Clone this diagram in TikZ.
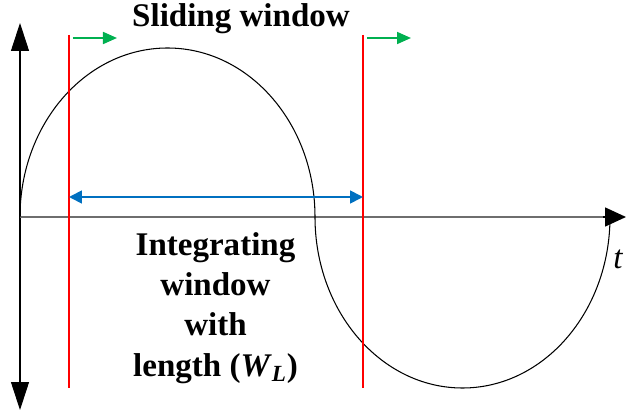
\documentclass[tikz,border=0pt]{standalone}
\usepackage{fontspec}
\setmainfont{Liberation Serif}
\usepackage{tikz}
\usetikzlibrary{arrows.meta,positioning}
\usepackage{xcolor}
\definecolor{slidegreen}{HTML}{00B050}
\definecolor{winblue}{HTML}{0070C0}
\definecolor{axisgray}{HTML}{6E6E6E}

\begin{document}
\begin{tikzpicture}[
  axisline/.style={line width=0.6pt},
  bound/.style={red, line width=0.6pt},
  slidearrow/.style={slidegreen, line width=1pt, -{Triangle[length=0.28cm, width=0.24cm]}},
  winarrow/.style={winblue, line width=1pt, {Triangle[length=0.26cm, width=0.26cm]}-{Triangle[length=0.26cm, width=0.26cm]}},
  wintext/.style={font=\fontsize{18.8}{23}\selectfont\bfseries, align=center},
]
\useasboundingbox (-0.4,-3.94) rectangle (12.12,4.34);

% axes
\coordinate (o) at (0,0);
\coordinate (ytop) at (0,3.88);
\coordinate (ybot) at (0,-3.86);
\coordinate (xhead) at (11.65,0);
\coordinate (xend) at (12.12,0);
\draw[axisline, {Triangle[length=0.56cm, width=0.36cm]}-{Triangle[length=0.56cm, width=0.36cm]}] (ybot) -- (ytop);
\draw[axisgray, line width=0.9pt] (o) -- (xhead);
\draw[line width=0.9pt, -{Triangle[length=0.42cm, width=0.38cm]}] (xhead) -- (xend);
\node[font=\fontsize{18.8}{23}\selectfont\itshape, anchor=base] (t) at (11.96,-1.04) {t};

% signal
\draw[line width=0.6pt] (o) arc[start angle=180, end angle=0, x radius=2.95, y radius=3.38]
  arc[start angle=180, end angle=360, x radius=2.95, y radius=3.42];

% window bounds
\coordinate (l1) at (0.98,3.64);
\coordinate (l2) at (0.98,-3.42);
\coordinate (r1) at (6.86,3.64);
\coordinate (r2) at (6.86,-3.42);
\draw[bound] (l1) -- (l2);
\draw[bound] (r1) -- (r2);

% sliding
\coordinate (g1) at (1.06,3.58);
\coordinate (g2) at (1.94,3.58);
\coordinate (g3) at (6.94,3.58);
\coordinate (g4) at (7.82,3.58);
\draw[slidearrow] (g1) -- (g2);
\draw[slidearrow] (g3) -- (g4);
\node[wintext, anchor=base] (slide) at (4.42,3.80) {Sliding window};

% integrating length
\coordinate (b1) at (0.98,0.40);
\coordinate (b2) at (6.86,0.40);
\draw[winarrow] (b1) -- (b2);
\node[wintext, anchor=north] (integ) at (3.91,-0.18) {Integrating\\window\\with\\length (\textit{W}\textsubscript{\textit{L}})};
\end{tikzpicture}
\end{document}
